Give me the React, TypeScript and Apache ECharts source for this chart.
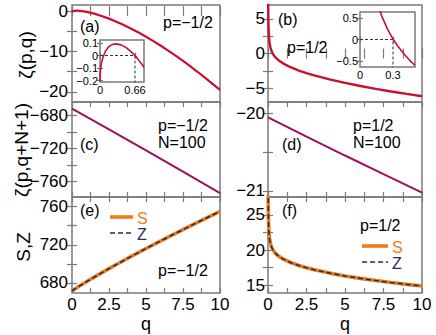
import React, { useEffect, useRef } from "react";
import * as echarts from "echarts";

// ---------------- data ----------------
// (a) zeta(p,q), p=-1/2
const qA = [0, 0.02, 0.1, 0.2, 0.3, 0.4, 0.5, 0.66, 0.8, 1, 1.5, 2, 2.5, 3, 3.5, 4, 4.5, 5, 5.5, 6, 6.5, 7, 7.5, 8, 8.5, 9, 9.5, 10];
const zA = [-0.208, -0.081, 0.032, 0.081, 0.093, 0.085, 0.061, 0.0, -0.076, -0.208, -0.646, -1.208, -1.871, -2.622, -3.452, -4.354, -5.323, -6.354, -7.445, -8.59, -9.79, -11.04, -12.339, -13.686, -15.078, -16.514, -17.993, -19.514];
// inset of (a)
const qIa = [0, 0.0001, 0.001, 0.005, 0.01, 0.02, 0.03, 0.05, 0.1, 0.15, 0.2, 0.25, 0.3, 0.4, 0.5, 0.6, 0.66, 0.7, 0.8, 0.83];
const zIa = [-0.208, -0.198, -0.177, -0.141, -0.115, -0.081, -0.057, -0.022, 0.032, 0.063, 0.081, 0.09, 0.093, 0.085, 0.061, 0.025, 0.0, -0.021, -0.076, -0.094];
const guideA = [[0, 0], [0.66, 0], [0.66, -0.25]];
// (b) zeta(p,q), p=1/2
const qB = [0.01, 0.015, 0.02, 0.03, 0.05, 0.075, 0.1, 0.15, 0.2, 0.3, 0.4, 0.5, 0.75, 1, 1.5, 2, 2.5, 3, 4, 5, 6, 7, 8, 9, 10];
const zB = [8.527, 6.685, 5.585, 4.274, 2.948, 2.096, 1.576, 0.936, 0.532, 0.011, -0.338, -0.605, -1.096, -1.46, -2.019, -2.46, -2.836, -3.168, -3.745, -4.245, -4.692, -5.1, -5.478, -5.832, -6.165];
// inset of (b)
const qIb = [0.15, 0.18, 0.2, 0.25, 0.3, 0.35, 0.4, 0.45, 0.5];
const zIb = [0.936, 0.676, 0.532, 0.24, 0.011, -0.177, -0.338, -0.479, -0.605];
const guideB = [[0, 0], [0.3, 0], [0.3, -0.7]];
// (c), (d) zeta(p,q+N+1), N=100
const qCD = [0, 2.5, 5, 7.5, 10];
const zC = [-671.67, -696.89, -722.41, -748.24, -774.37];
const zD = [-20.05, -20.298, -20.543, -20.785, -21.024];
// (e) S, Z, p=-1/2
const qE = [0, 0.1, 0.25, 0.5, 1, 1.5, 2, 2.5, 3, 4, 5, 6, 7, 7.5, 8, 9, 10];
const sE = [671.47, 672.7, 674.27, 676.74, 681.51, 686.11, 690.61, 695.02, 699.35, 707.81, 716.06, 724.12, 732.01, 735.9, 739.75, 747.37, 754.86];
const zE = [671.47, 672.7, 674.27, 676.74, 681.51, 686.11, 690.61, 695.02, 699.35, 707.81, 716.06, 724.12, 732.01, 735.9, 739.75, 747.37, 754.86];
// (f) S, Z, p=1/2
const qF = [0.01, 0.015, 0.02, 0.03, 0.05, 0.075, 0.1, 0.15, 0.2, 0.3, 0.4, 0.5, 0.75, 1, 1.5, 2, 2.5, 3, 4, 5, 6, 7, 8, 9, 10];
const sF = [28.578, 26.737, 25.637, 24.327, 23.003, 22.154, 21.636, 21.001, 20.602, 20.091, 19.752, 19.495, 19.029, 18.689, 18.18, 17.788, 17.462, 17.18, 16.7, 16.298, 15.948, 15.636, 15.354, 15.097, 14.859];
const zF = [28.578, 26.737, 25.637, 24.327, 23.003, 22.154, 21.636, 21.001, 20.602, 20.091, 19.752, 19.495, 19.029, 18.689, 18.18, 17.788, 17.462, 17.18, 16.7, 16.298, 15.948, 15.636, 15.354, 15.097, 14.859];

// ticks
const xTicks = [0, 1.25, 2.5, 3.75, 5, 6.25, 7.5, 8.75, 10];
const xLabels = [0, 2.5, 5, 7.5, 10];
const yTicksA = [0, -5, -10, -15, -20];
const yLabelsA = [0, -10, -20];
const yTicksB = [5, 2.5, 0, -2.5, -5];
const yLabelsB = [5, 0, -5];
const yTicksC = [-680, -700, -720, -740, -760];
const yLabelsC = [-680, -720, -760];
const yTicksD = [-20, -20.5, -21];
const yLabelsD = [-20, -21];
const yTicksE = [680, 700, 720, 740, 760];
const yLabelsE = [680, 720, 760];
const yTicksF = [15, 17.5, 20, 22.5, 25];
const yLabelsF = [15, 20, 25];
const xLabelsIa = [0, 0.66];
const yLabelsIa = [0.1, 0, -0.1, -0.2];
const xLabelsIb = [0, 0.3];
const yLabelsIb = [0.5, 0, -0.5];

const FONT = "'Liberation Sans', Arial, sans-serif";
const AX = "#7a7a7a";
const RED = "#c8102e";
const PURP = "#a0105a";
const ORANGE = "#f07c16";
const NAVY = "#1e2f5e";

const pairs = (xs: number[], ys: number[]) => xs.map((x, i) => [x, ys[i]]);
const minus = (v: number) => String(v).replace("-", "\u2212");

function axis(gridIndex: number, min: number, max: number, ticks: number[], labels: number[] | null, position: string, tickLen: number, fontSize: number, margin: number) {
  return {
    type: "value",
    gridIndex,
    min,
    max,
    position,
    axisLine: { show: false },
    splitLine: { show: false },
    axisTick: { show: true, inside: true, length: tickLen, lineStyle: { color: AX, width: 1.2 }, customValues: ticks },
    axisLabel: labels
      ? { show: true, customValues: labels, fontSize, color: "#000", fontFamily: FONT, margin, formatter: minus }
      : { show: false },
  };
}

export default function App() {
  const ref = useRef<HTMLDivElement>(null);
  useEffect(() => {
    const chart = echarts.init(ref.current!, null, { renderer: "svg" });
    const grids = [
      { left: 72, top: 5, width: 148, height: 97 },
      { left: 268, top: 5, width: 154, height: 97 },
      { left: 72, top: 102, width: 148, height: 95 },
      { left: 268, top: 102, width: 154, height: 95 },
      { left: 72, top: 197, width: 148, height: 96 },
      { left: 268, top: 197, width: 154, height: 96 },
      { left: 100, top: 40, width: 44, height: 42 },
      { left: 360, top: 12, width: 55, height: 55 },
    ].map((g) => ({ ...g, show: true, borderColor: AX, borderWidth: 1.5, backgroundColor: "rgba(0,0,0,0)" }));

    const yr = [
      [-22.5, 1.5, yTicksA, yLabelsA],
      [-7, 7, yTicksB, yLabelsB],
      [-779, -663.5, yTicksC, yLabelsC],
      [-21.08, -19.85, yTicksD, yLabelsD],
      [669.5, 770, yTicksE, yLabelsE],
      [13.86, 27.57, yTicksF, yLabelsF],
    ] as any[];

    const xAxes: any[] = [];
    const yAxes: any[] = [];
    for (let g = 0; g < 6; g++) {
      xAxes.push(axis(g, 0, 10, xTicks, g >= 4 ? xLabels : null, "bottom", 5, 17, 3));
      yAxes.push(axis(g, yr[g][0], yr[g][1], yr[g][2], yr[g][3], "left", 5, 17, g % 2 === 0 ? 4 : 3));
    }
    xAxes.push(axis(6, 0, 0.83, xLabelsIa, xLabelsIa, "bottom", 3, 11, 2));
    yAxes.push(axis(6, -0.212, 0.124, yLabelsIa, yLabelsIa, "left", 3, 11, 2));
    xAxes.push(axis(7, 0, 0.5, xLabelsIb, xLabelsIb, "bottom", 3, 11, 2));
    yAxes.push(axis(7, -0.64, 0.64, yLabelsIb, yLabelsIb, "left", 3, 11, 2));
    // mirrored tick axes (top / right)
    for (let g = 0; g < 6; g++) {
      xAxes.push(axis(g, 0, 10, xTicks, null, "top", 5, 17, 4));
      yAxes.push(axis(g, yr[g][0], yr[g][1], yr[g][2], null, "right", 5, 17, 4));
    }
    xAxes.push(axis(6, 0, 0.83, xLabelsIa, null, "top", 3, 11, 2));
    yAxes.push(axis(6, -0.212, 0.124, yLabelsIa, null, "right", 3, 11, 2));
    xAxes.push(axis(7, 0, 0.5, xLabelsIb, null, "top", 3, 11, 2));
    yAxes.push(axis(7, -0.64, 0.64, yLabelsIb, null, "right", 3, 11, 2));

    const line = (idx: number, data: any[], color: string, width: number, dash?: any, z = 2) => ({
      type: "line",
      xAxisIndex: idx,
      yAxisIndex: idx,
      data,
      showSymbol: false,
      symbol: "none",
      smooth: false,
      clip: true,
      z,
      lineStyle: { color, width, type: dash || "solid", cap: "butt" },
    });

    const series = [
      line(0, pairs(qA, zA), RED, 2.2),
      line(1, pairs(qB, zB), RED, 2.4),
      line(2, pairs(qCD, zC), PURP, 2),
      line(3, pairs(qCD, zD), PURP, 2),
      line(4, pairs(qE, sE), ORANGE, 3.6),
      line(4, pairs(qE, zE), NAVY, 1.6, [5, 3], 3),
      line(5, pairs(qF, sF), ORANGE, 3.6),
      line(5, pairs(qF, zF), NAVY, 1.6, [5, 3], 3),
      line(6, guideA, "#333", 1, [3, 2]),
      line(6, pairs(qIa, zIa), RED, 1.6),
      line(7, guideB, "#333", 1, [3, 2]),
      line(7, pairs(qIb, zIb), RED, 1.6),
    ];

    const txt = (text: string, x: number, y: number, size = 16, fill = "#000", rotation = 0, align = "left") => ({
      type: "text",
      x,
      y,
      rotation,
      z: 100,
      style: { text, font: `${size}px ${FONT}`, fill, align, verticalAlign: "middle", textAlign: align, textVerticalAlign: "middle" },
    });
    const seg = (x1: number, x2: number, y: number, stroke: string, lineWidth: number, lineDash?: number[]) => ({
      type: "line",
      z: 100,
      shape: { x1, y1: y, x2, y2: y },
      style: { stroke, lineWidth, lineDash: lineDash || null },
    });

    const graphic = [
      txt("(a)", 80, 26),
      txt("p=\u22121/2", 163, 22),
      txt("(b)", 278, 19),
      txt("p=1/2", 287, 47),
      txt("p=\u22121/2", 158, 125),
      txt("N=100", 158, 142),
      txt("(c)", 80, 144),
      txt("p=1/2", 353, 125),
      txt("N=100", 353, 142),
      txt("(d)", 282, 144),
      txt("(e)", 80, 210),
      txt("p=\u22121/2", 158, 270),
      txt("(f)", 282, 210),
      txt("p=1/2", 360, 225),
      seg(110, 133, 217, ORANGE, 3.6),
      txt("S", 137, 218, 16, ORANGE),
      seg(110, 133, 233, NAVY, 1.6, [5, 3]),
      txt("Z", 137, 234, 16, NAVY),
      seg(362, 388, 246, ORANGE, 3.6),
      txt("S", 392, 247, 16, ORANGE),
      seg(362, 388, 262, NAVY, 1.6, [5, 3]),
      txt("Z", 392, 263, 16, NAVY),
      txt("\u03b6(p,q)", 25, 55, 19, "#000", Math.PI / 2, "center"),
      txt("\u03b6(p,q+N+1)", 21, 150, 19, "#000", Math.PI / 2, "center"),
      txt("S,Z", 23, 247, 19, "#000", Math.PI / 2, "center"),
      txt("q", 146, 324, 18, "#000", 0, "center"),
      txt("q", 345, 324, 18, "#000", 0, "center"),
    ];

    chart.setOption({
      animation: false,
      backgroundColor: "#fff",
      grid: grids,
      xAxis: xAxes,
      yAxis: yAxes,
      series,
      graphic,
    });
    return () => chart.dispose();
  }, []);
  return <div ref={ref} style={{ position: "absolute", left: 0, top: 0, width: 436, height: 335 }} />;
}
